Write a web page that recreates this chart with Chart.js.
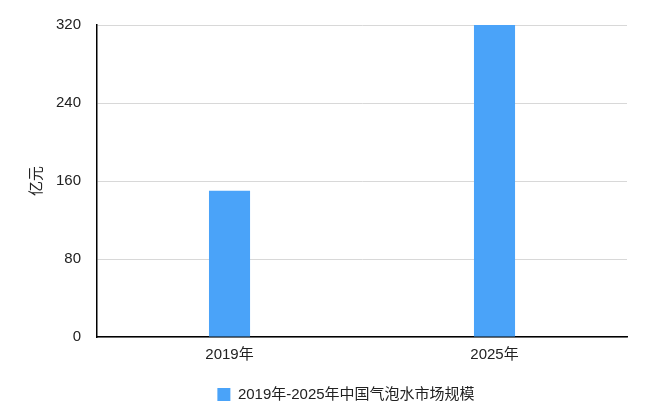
<!DOCTYPE html>
<html>
<head>
<meta charset="utf-8">
<script src="https://cdn.jsdelivr.net/npm/chart.js@4/dist/chart.umd.min.js"></script>
<style>
    html, body { margin: 0; padding: 0; background: #fff; }
    #wrap { width: 672px; height: 414px; }
</style>
</head>
<body>
<div id="wrap"><canvas id="marketChart"></canvas></div>
<script>
const categories = ["2019年", "2025年"];
const marketSize = [150, 320];
const seriesLabel = "2019年-2025年中国气泡水市场规模";
const yTicks = [0, 80, 160, 240, 320];

const fontFamily = "'Liberation Sans', 'Noto Sans CJK SC', sans-serif";

// the legend sits centred on the page, not on the padded layout box
const centerLegend = {
    id: "centerLegend",
    afterLayout(chart) {
        const legend = chart.legend;
        if (!legend) return;
        const shift = chart.width / 2 - (legend.left + legend.right) / 2 + 10;
        legend.left += shift;
        legend.right += shift;
        for (const box of legend.legendHitBoxes || []) {
            box.left += shift;
        }
    },
};

(function () {
    const data = {
        labels: categories,
        datasets: [
            {
                label: seriesLabel,
                data: marketSize,
                backgroundColor: "#4aa3f9",
                barPercentage: 0.155,
                categoryPercentage: 1.0,
            },
        ],
    };

    const config = {
        type: "bar",
        data: data,
        plugins: [centerLegend],
        options: {
            responsive: true,
            maintainAspectRatio: false,
            animation: false,
            layout: {
                padding: { top: 14, right: 45, left: 28, bottom: 2 },
            },
            scales: {
                x: {
                    grid: { display: false, drawTicks: false },
                    border: { color: "#000", width: 1.5 },
                    ticks: {
                        color: "#222",
                        font: { family: fontFamily, size: 15 },
                        padding: 9,
                    },
                },
                y: {
                    min: 0,
                    max: 320,
                    afterBuildTicks: (axis) => {
                        axis.ticks = yTicks.map((v) => ({ value: v }));
                    },
                    grid: { color: "#d8d8d8", drawTicks: false },
                    border: { color: "#000", width: 1.5 },
                    ticks: {
                        color: "#222",
                        font: { family: fontFamily, size: 15 },
                        padding: 16,
                    },
                    title: {
                        display: true,
                        text: "亿元",
                        color: "#222",
                        font: { family: fontFamily, size: 15 },
                        padding: { top: 0, bottom: -6 },
                    },
                },
            },
            plugins: {
                legend: {
                    position: "bottom",
                    labels: {
                        boxWidth: 13,
                        boxHeight: 13,
                        color: "#222",
                        font: { family: fontFamily, size: 15 },
                        padding: 14,
                    },
                },
                tooltip: { enabled: false },
            },
        },
    };

    new Chart(document.getElementById("marketChart"), config);
})();
</script>
</body>
</html>
